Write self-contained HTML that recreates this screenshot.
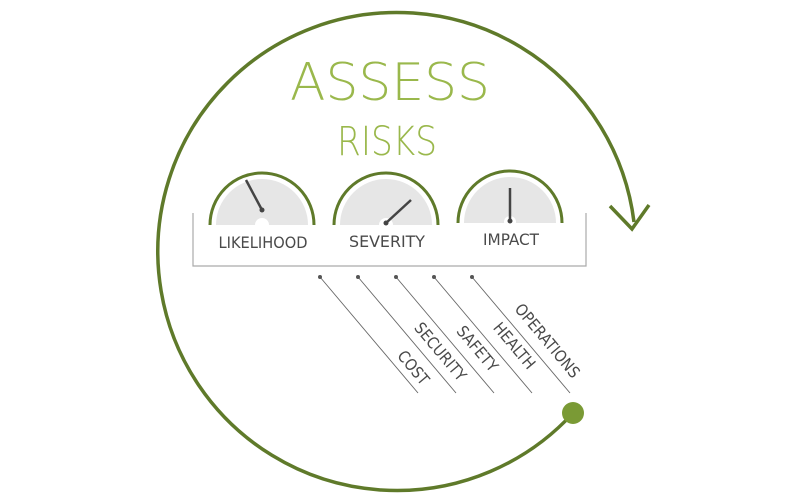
<!DOCTYPE html>
<html><head><style>body{margin:0;background:#fff}svg{display:block}</style></head><body>
<svg width="800" height="500" viewBox="0 0 800 500" xmlns="http://www.w3.org/2000/svg">
<path d="M573,413 A239,239 0 1 1 634,222" fill="none" stroke="#5f7a2a" stroke-width="3.5"/>
<polyline points="610,206 632,229 649,205" fill="none" stroke="#5f7a2a" stroke-width="3.5"/>
<circle cx="573" cy="413" r="11" fill="#7a9a35"/>
<text x="390" y="100" text-anchor="middle" font-family="DejaVu Sans, sans-serif" font-weight="200" font-size="52" fill="#9ab84c" textLength="200" lengthAdjust="spacingAndGlyphs">ASSESS</text>
<text x="387" y="155" text-anchor="middle" font-family="DejaVu Sans, sans-serif" font-weight="200" font-size="40" fill="#9ab84c" textLength="100" lengthAdjust="spacingAndGlyphs">RISKS</text>
<polyline points="193,213 193,266 586,266 586,213" fill="none" stroke="#aaa" stroke-width="1.2"/>
<g>
<path d="M216,225 A46,46 0 0 1 308,225 Z" fill="#e6e6e6"/>
<path d="M210,225 A52,52 0 0 1 314,225" fill="none" stroke="#5f7a2a" stroke-width="3"/>
<circle cx="262" cy="225" r="7" fill="#fff"/>
<line x1="246" y1="180" x2="262" y2="210" stroke="#444" stroke-width="2.5"/>
<circle cx="262" cy="210" r="2.5" fill="#444"/>
<path d="M340,225 A46,46 0 0 1 432,225 Z" fill="#e6e6e6"/>
<path d="M334,225 A52,52 0 0 1 438,225" fill="none" stroke="#5f7a2a" stroke-width="3"/>
<circle cx="386" cy="225" r="7" fill="#fff"/>
<line x1="386" y1="223" x2="411" y2="200" stroke="#444" stroke-width="2.5"/>
<circle cx="386" cy="223" r="2.5" fill="#444"/>
<path d="M464,223 A46,46 0 0 1 556,223 Z" fill="#e6e6e6"/>
<path d="M458,223 A52,52 0 0 1 562,223" fill="none" stroke="#5f7a2a" stroke-width="3"/>
<circle cx="510" cy="222" r="6" fill="#fff"/>
<line x1="510" y1="188" x2="510" y2="221" stroke="#444" stroke-width="2.5"/>
<circle cx="510" cy="221" r="2.5" fill="#444"/>
</g>
<g font-family="DejaVu Sans Condensed, DejaVu Sans, sans-serif" font-size="16" fill="#4a4a4a" text-anchor="middle">
<text x="263" y="248" textLength="89" lengthAdjust="spacingAndGlyphs">LIKELIHOOD</text>
<text x="387" y="247" textLength="76" lengthAdjust="spacingAndGlyphs">SEVERITY</text>
<text x="511" y="245" textLength="56" lengthAdjust="spacingAndGlyphs">IMPACT</text>
</g>
<g stroke="#666" stroke-width="0.9" fill="#555">
<line x1="320" y1="277" x2="418" y2="393"/><circle cx="320" cy="277" r="2" stroke="none"/>
<line x1="358" y1="277" x2="456" y2="393"/><circle cx="358" cy="277" r="2" stroke="none"/>
<line x1="396" y1="277" x2="494" y2="393"/><circle cx="396" cy="277" r="2" stroke="none"/>
<line x1="434" y1="277" x2="532" y2="393"/><circle cx="434" cy="277" r="2" stroke="none"/>
<line x1="472" y1="277" x2="570" y2="393"/><circle cx="472" cy="277" r="2" stroke="none"/>
</g>
<g font-family="DejaVu Sans Condensed, DejaVu Sans, sans-serif" font-size="16" fill="#4a4a4a" text-anchor="middle">
<text transform="translate(413,368) rotate(50)" y="5">COST</text>
<text transform="translate(440,352) rotate(50)" y="5">SECURITY</text>
<text transform="translate(477,349) rotate(50)" y="5">SAFETY</text>
<text transform="translate(514,346) rotate(50)" y="5">HEALTH</text>
<text transform="translate(547,341) rotate(50)" y="5">OPERATIONS</text>
</g>
</svg>
</body></html>
